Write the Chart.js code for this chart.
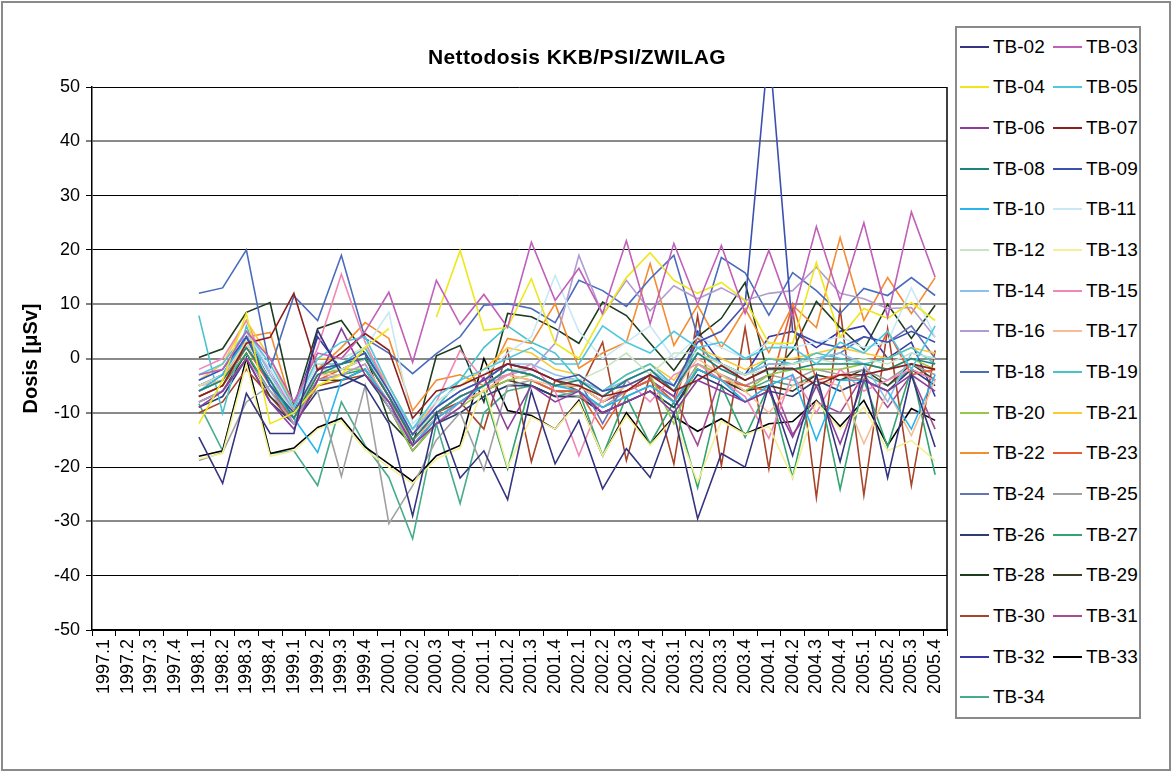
<!DOCTYPE html>
<html>
<head>
<meta charset="utf-8">
<script src="https://cdn.jsdelivr.net/npm/chart.js@4/dist/chart.umd.min.js"></script>
<style>
  body { margin: 0; background: #fff; font-family: "Liberation Sans", Arial, sans-serif; }
  #wrap { position: relative; width: 1171px; height: 771px; }
  #frame { position: absolute; left: 1px; top: 1px; width: 1166px; height: 766px; border: 2px solid #8a8a8a; }
  #chart { position: absolute; left: 0; top: 0; }
  #title { position: absolute; left: 0; top: 45px; width: 1154px; text-align: center;
           font-weight: bold; font-size: 21px; letter-spacing: 0.4px; color: #000; }
  #legend { position: absolute; left: 955px; top: 26px; width: 182px; height: 689px;
            border: 2px solid #8a8a8a; background: #fff; }
  .item { position: absolute; height: 20px; font-size: 19px; line-height: 20px; color: #000; }
  .item i { position: absolute; top: 9px; width: 29px; height: 2px; }
  .item span { position: absolute; white-space: nowrap; }
</style>
</head>
<body>
<div id="wrap">
  <div id="frame"></div>
  <canvas id="chart" width="1171" height="771"></canvas>
  <div id="title">Nettodosis KKB/PSI/ZWILAG</div>
  <div id="legend"></div>
</div>
<script>
// quarters, 1997.1 .. 2005.4
const quarters = [
  "1997.1","1997.2","1997.3","1997.4","1998.1","1998.2","1998.3","1998.4",
  "1999.1","1999.2","1999.3","1999.4","2000.1","2000.2","2000.3","2000.4",
  "2001.1","2001.2","2001.3","2001.4","2002.1","2002.2","2002.3","2002.4",
  "2003.1","2003.2","2003.3","2003.4","2004.1","2004.2","2004.3","2004.4",
  "2005.1","2005.2","2005.3","2005.4"
];
const yTicks = [-50, -40, -30, -20, -10, 0, 10, 20, 30, 40, 50];

// net dose per dosimeter in µSv (no readings before 1998)
const tb02 = [null,null,null,null,-14.5,-23,-6.4,-13.8,-13.8,5.2,-3,-5,-12,-29,-10,-22,-17,-26,-6,-19.4,-11.4,-24,-16.6,-21.9,-10,-29.5,-17.5,-20,-5,-17.9,-3,-19,-2,-22,-3,-16.3];
const tb03 = [null,null,null,null,-3,-2,5,0,-8,1,0,5,12.2,-0.7,14.4,6.3,11.8,5.7,21.4,10.7,16.6,8.3,21.7,6.4,21.2,10,20.8,8.3,19.9,7.6,24.3,10.7,25,7.6,27,15];
const tb04 = [null,null,null,null,-12,-4,8.3,-12,-10,-5,-3,2,5.5,null,7.6,19.9,5.2,5.7,14.7,2.8,0,8,14.9,19.5,14.4,12,14,10.7,2.8,2.8,17.7,3.9,9.2,7.4,10.3,7];
const tb05 = [null,null,null,null,-3,-1,5,-1,-9,0,3,4,-5,-13,-7,-4,-2,0,2,-1,-1,6,3,1,5,2,3,0,2,2,-1,3,1,5,-2,6];
const tb06 = [null,null,null,null,-9,-6,0,-8,-13,-4,5.5,-3,-8,-16,-12,-9,-3.5,-13,-5,-8,-6,-10,-8,-6,-10,-4,-6,-8,-6,-14.5,-5,-15.7,-4,-6,-3,-6];
const tb07 = [null,null,null,null,-7,-5,2.8,3.9,12,-2.2,1,4.6,1.5,-11,-6,-5,-3,-1,-2,-4,-5,-7,-6,-3,-6,-4,-1.3,-4,-1.8,-1.8,-5,-3,-3,-2,-1,-2];
const tb08 = [null,null,null,null,-6,-4,2,-4,-11,-3,-1,0,-7,-15,-10,-7,-5,-2,-3,-5,-4,-7,-4,-2,-6,1,-2,-4,-2,-2,-1,-1,-1,-2,0,-1];
const tb09 = [null,null,null,null,-4,-2,4,-5,-10,-2,-1,1,-6,-14,-9,-6,-4,-1,-2,-4,-3,-6,-5,-3,-5,3,5,10,58,5,3,2,4,3,5,3];
const tb10 = [null,null,null,null,-6,-3,4,-5,-11,-17.3,-4,-2,-8,-16,-11,-8,-5,-2,-3,-5,-6,-9,-7,-5,-8,-2,-4,-8,-5,-3,-15,-4,-4,-6,-13,-3];
const tb11 = [null,null,null,null,-4,-2,5,-2,-9,-1,0,2,8.5,-12,-8,-5,-3,1,4,15.3,5,0,3,6,0,4,2,0,3,2,3,4,2,3,13,4];
const tb12 = [null,null,null,null,-5,-3,3,-4,-10,-2,-2,0,-6,-14,-10,-7,-5,-2,-2,-4,-4,-2,1,-3,1,1,-1,-3,-2,-1,0,-1,0,-1,1,0];
const tb13 = [null,null,null,null,-18.5,-17.5,-1,-18,-17,-13,-11.5,-16.8,-20,-23,-18.5,-16.5,-5,-20,-10.8,-13,-8,-17.9,-10.5,-16,-11,-22.8,-11.5,-14,-12.5,-22,-8,-13,-9,-17,-15.1,-18.8];
const tb14 = [null,null,null,null,-4,-2,5,-3,-10,-2,-1,1,-6,-13,-9,-6,-4,-1,-1,-3,-4,-6,-4,-2,-5,1,-2,-3,-1,-1,0,1,-1,-8,1,0];
const tb15 = [null,null,null,null,-2,0,7,-3,-9,2,15.5,3,-6,-14,-8,1.5,-4,-3,-1,-6,-17.9,-7,-4,-8,-3,-1,-4,-7,-14.7,-3,-10,-2,-6,-4,-2,-4];
const tb16 = [null,null,null,null,-8,-6,0,-6,-12,-4,-3,-1,-9,-16,-12,-8,-5,-3,-2,2.8,19,8,14.4,8.8,13.4,11,13,10.7,12,12.5,16.8,12,11,9.2,9.4,3.9];
const tb17 = [null,null,null,null,-5,-4,3,-4,-11,-3,-3,-1,-8,-15,-11,-8,-6,-3,-4,-5,-5,-8,-5,-3,-6,0,-3,-6,-10,-5,-4,-5,-15.7,-6,-14.2,-4];
const tb18 = [null,null,null,null,12,13,20,-2,11.5,7,19,3.7,1,-2.8,0.9,4,9.8,10.1,9.2,6.6,14.4,12.5,9.6,14.7,19,4,18.6,15.8,8,15.8,12.5,8.3,12.9,11.6,14.9,11.6];
const tb19 = [null,null,null,null,7.9,-10.1,6,-5,-9,-1,-1,2,-6,-14,-9,-4,2,6,3,1,-4,-6,-3,-1,-5,2,-1,-3,0,-1,1,0,-1,0,2,-1];
const tb20 = [null,null,null,null,-6,-4,2,-4,-10,-3,-2,-2,-9,-17,-12,-9,-6,-4,-3,-5,-5,-8,-5,-3,-12,-1,-3,-6,-3,-2,-2,-2,-1,-2,0,-2];
const tb21 = [null,null,null,null,-4,-1,7,0,-9,0,0,2,-5,-13,-8,-5,-2,2,1,-2,-3,-6,-3,-1,-4,2,0,-2,0,0,1,2,1,0,2,1];
const tb22 = [null,null,null,null,-5,-4,3.9,4.8,-10,-2,2,6.6,3.7,-9.6,-4,-3,-5,3.7,2.8,10.1,-1.8,1,3,17.5,2.4,9.8,2,9.2,1.1,9.8,5.7,22.3,7,14.9,8.3,14.9];
const tb23 = [null,null,null,null,-7,-5,2,-5,-12,-4,-2,0,-7,-16,-11,-8,-6,-3,-4,-6,-6,-13,-6,-4,-8,4,-4,-5,-6,10,-4,-3,-4,5,-3,-2];
const tb24 = [null,null,null,null,-5,-3,4,-2,-10,-2,-1,1,-7,-14,-9,-6,-4,-1,-2,-4,-4,-12,-4,-2,-6,1,-1,-3,-1,-1,0,1,4,3,6,0];
const tb25 = [null,null,null,null,-18.8,-17.3,-8,-5,-8,-6,-21.7,-5,-30.4,-23.4,-15,-10,-20.6,-5,-4,-6,-7,-9,-6,-4,-8,-1,-3,-5,-3,-4,-2,-3,-2,-4,-1,-3];
const tb26 = [null,null,null,null,-9,-7,0,-8,-12,-6,-5,-3,-9,-17,-12,-10,-7,-5,-5,-7,-7,-10,-8,-6,-9,-3,-5,-8,-6,-7,-4,-6,-4,-6,-2,-5];
const tb27 = [null,null,null,null,-7,-5,1,-6,-11,-4,-3,-2,-8,-16,-11,-8,-6,-20.3,-4,-6,-6,-17.9,-7,-15.7,-8,-23.8,-5,-14.5,-5,-21.9,-3,-24.1,-4,-16.3,-2,-21.4];
const tb28 = [null,null,null,null,0.2,1.8,8.5,10.3,-9,5.5,7,0.9,-11.4,-16,0.5,2.4,-8,8.3,7.7,5.5,2.8,10.4,7.9,2.8,-2.2,4,7.4,14,-3.7,1.5,10.5,5.7,1.6,10,3.7,9.8];
const tb29 = [null,null,null,null,-8,-6,1,-7,-11,-4,-4,-2,-9,-15,-11,-8,-6,-4,-5,-7,-7,-10,-8,-6,-9,-2,-4,-6,-5,-6,-3,-4,-2,-5,-1,-4];
const tb30 = [null,null,null,null,-10,-8,-2,-7,-12,-5,-4,-3,-8,-14,-10,-8,-13,1.5,-19,-4,-6,3,-18.8,-3,-19.4,7.9,-19.7,5.7,-20.3,9.2,-25.6,9.2,-25.2,5.5,-23.4,1.5];
const tb31 = [null,null,null,null,-6,-4,3,-5,-10,-3,-2,0,-7,-15,-10,-7,-5,-2,-3,-5,-5,-8,-6,-4,-7,-16,-3,-5,-3,-14,-8,-10,-3,-9,-3,-13];
const tb32 = [null,null,null,null,-5,-3,4,-4,-10,4,-2,0,-7,-15,-10,-7,-5,-2,-3,-5,-5,-8,-6,-4,-7,5,-1,-3,4,5,2,5,6,0,3,-7];
const tb33 = [null,null,null,null,-18,-17,0,-17.5,-16.5,-12.7,-11,-16.3,-19.4,-22.6,-17.9,-16,0,-9.6,-10.5,-13,-7.7,-17.9,-10,-15.7,-10.7,-13.4,-11.1,-13.9,-12,-11.6,-7.7,-12.5,-7.7,-16,-9.2,-11.4];
const tb34 = [null,null,null,null,-8.3,-17,0,-17.5,-17,-23.4,-8,-16,-21.9,-33.2,-12,-26.7,-10,-6,-5,-7,-6,-9,-7,-5,-8,-2,-4,-6,-4,-5,-3,-4,-3,-5,-2,-4];

const seriesNames = [
  "TB-02","TB-03","TB-04","TB-05","TB-06","TB-07","TB-08","TB-09","TB-10","TB-11","TB-12",
  "TB-13","TB-14","TB-15","TB-16","TB-17","TB-18","TB-19","TB-20","TB-21","TB-22","TB-23",
  "TB-24","TB-25","TB-26","TB-27","TB-28","TB-29","TB-30","TB-31","TB-32","TB-33","TB-34"
];
const seriesValues = [
  tb02, tb03, tb04, tb05, tb06, tb07, tb08, tb09, tb10, tb11, tb12,
  tb13, tb14, tb15, tb16, tb17, tb18, tb19, tb20, tb21, tb22, tb23,
  tb24, tb25, tb26, tb27, tb28, tb29, tb30, tb31, tb32, tb33, tb34
];
const seriesColors = [
  "#35357f","#c060b8","#f0e61e","#50c8e0","#8c3c9c","#8c1e1e","#1e8278","#3c50b0","#28b4ec","#c8e8f4","#c8e4c4",
  "#f4f096","#8cc0ec","#f088b4","#b09cd0","#f8bc96","#4a6cbc","#46c4cc","#96c846","#fcc834","#f48c32","#e85c32",
  "#6474b4","#a0a0a0","#2c3c74","#32a470","#1e3c1e","#3c3c24","#a84428","#a44c94","#3838a8","#000000","#46ac8c"
];

// these grid lines come out grey and a bit wider
const softLines = [40, 10, 0, -10, -30];

Chart.defaults.font.family = '"Liberation Sans", Arial, sans-serif';
Chart.defaults.color = '#000';

// closes the plot box on the right side
const plotFrame = {
  id: 'plotFrame',
  afterDraw(chart) {
    const a = chart.chartArea, ctx = chart.ctx;
    ctx.save();
    ctx.strokeStyle = '#000';
    ctx.lineWidth = 1.5;
    ctx.beginPath();
    ctx.moveTo(a.right, a.top);
    ctx.lineTo(a.right, a.bottom);
    ctx.stroke();
    ctx.restore();
  }
};

const chart = new Chart(document.getElementById('chart'), {
  type: 'line',
  data: {
    labels: quarters,
    datasets: seriesNames.map((name, i) => ({
      label: name,
      data: seriesValues[i],
      borderColor: seriesColors[i],
      backgroundColor: seriesColors[i],
      borderWidth: 1.6,
      pointRadius: 0,
      tension: 0,
      fill: false,
      spanGaps: false
    }))
  },
  options: {
    responsive: false,
    animation: false,
    devicePixelRatio: 1,
    layout: { padding: { top: 87, right: 224, left: 0, bottom: 0 } },
    plugins: {
      legend: { display: false },
      tooltip: { enabled: false },
      title: { display: false }
    },
    scales: {
      x: {
        type: 'category',
        offset: true,
        grid: { offset: true, drawOnChartArea: false, tickLength: 6, color: '#000', tickWidth: 1 },
        border: { color: '#000', width: 1.5 },
        ticks: { minRotation: 90, maxRotation: 90, autoSkip: false, padding: 3, font: { size: 18 } },
        afterFit(s) { s.height = 141; }
      },
      y: {
        min: -50,
        max: 50,
        afterBuildTicks(s) { s.ticks = yTicks.map(v => ({ value: v })); },
        grid: {
          color: c => softLines.includes(c.tick.value) ? '#8a8a8a' : '#000',
          lineWidth: c => softLines.includes(c.tick.value) ? 2 : 1,
          tickColor: '#000',
          tickWidth: 1,
          tickLength: 6
        },
        border: { color: '#000', width: 1.5 },
        ticks: { padding: 6, font: { size: 18 } },
        title: {
          display: true,
          text: 'Dosis [μSv]',
          font: { size: 20, weight: 'bold' },
          padding: { top: 19, bottom: 0 }
        },
        afterFit(s) { s.width = 92; }
      }
    }
  },
  plugins: [plotFrame]
});

// legend: two columns, filled row by row
const legendBox = document.getElementById('legend');
chart.data.datasets.forEach((ds, i) => {
  const row = Math.floor(i / 2), col = i % 2;
  const item = document.createElement('div');
  item.className = 'item';
  item.style.top = (8.7 + row * 40.66) + 'px';
  item.style.left = (col === 0 ? 3 : 96) + 'px';
  item.innerHTML = '<i style="background:' + ds.borderColor + '"></i><span style="left:33px">' + ds.label + '</span>';
  legendBox.appendChild(item);
});
</script>
</body>
</html>
